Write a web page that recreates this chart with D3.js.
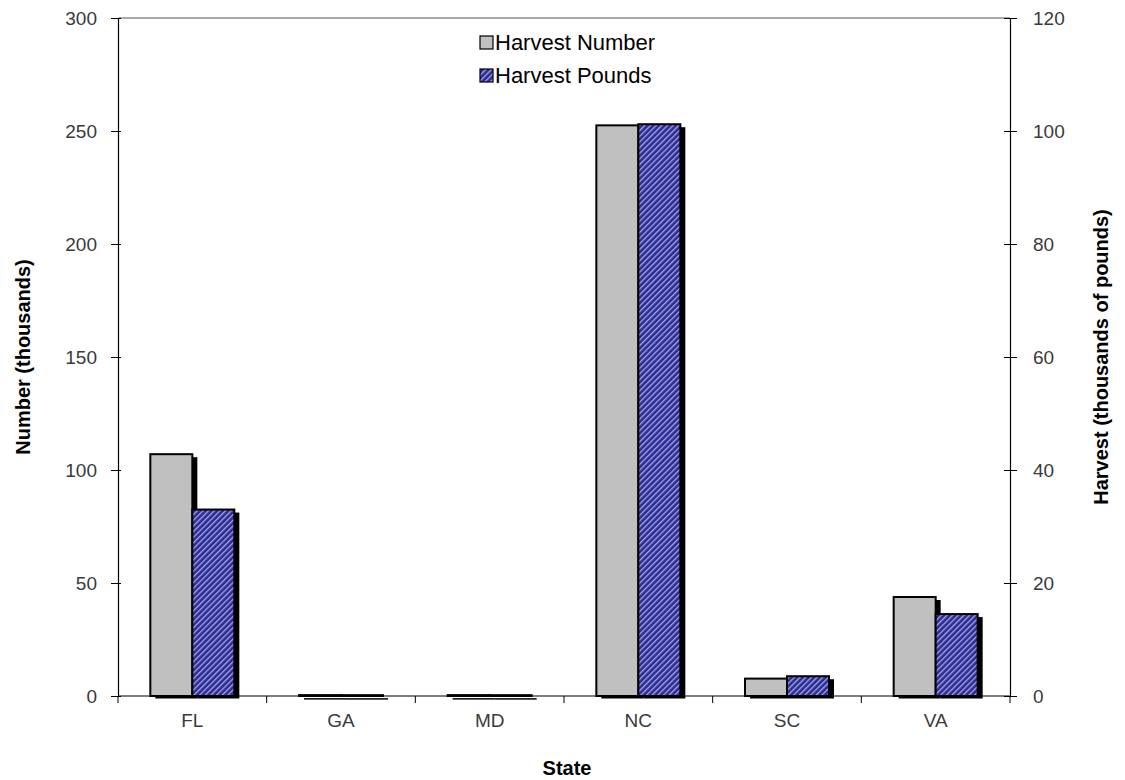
<!DOCTYPE html>
<html><head><meta charset="utf-8">
<script src="https://cdn.jsdelivr.net/npm/d3@7"></script>
<style>body{margin:0;background:#fff}svg{font-family:"Liberation Sans",Arial,sans-serif}</style>
</head><body><svg id="c" width="1125" height="780"></svg>
<script>
const states = ["FL","GA","MD","NC","SC","VA"];
const harvestNumber = [107, 0.4, 0.4, 252.5, 7.7, 43.8];   // thousands (left axis)
const harvestPounds = [33, 0.15, 0.15, 101.2, 3.5, 14.5];  // thousands of pounds (right axis)
const leftTicks = [0,50,100,150,200,250,300];
const rightTicks = [0,20,40,60,80,100,120];

const svg = d3.select("#c");
const L=118, R=1010, T=18, B=696;
const x = d3.scaleBand().domain(states).range([L,R]);
const yL = d3.scaleLinear().domain([0,300]).range([B,T]);
const yR = d3.scaleLinear().domain([0,120]).range([B,T]);

const defs = svg.append("defs");
const pat = defs.append("pattern").attr("id","hatch").attr("patternUnits","userSpaceOnUse")
  .attr("width",4).attr("height",4).attr("patternTransform","rotate(45)");
pat.append("rect").attr("width",4).attr("height",4).attr("fill","#2b2b96");
pat.append("rect").attr("width",1.3).attr("height",4).attr("fill","#a8a8e0");

// top border
svg.append("line").attr("x1",L).attr("x2",R).attr("y1",T).attr("y2",T).attr("stroke","#555").attr("stroke-width",1.2);

const bw = 42, off = 5;
const g = svg.append("g");
states.forEach((s,i)=>{
  const c = x(s)+x.bandwidth()/2;
  const items = [
    {x0:c-bw, y:yL(harvestNumber[i]), fill:"#c0c0c0"},
    {x0:c, y:yR(harvestPounds[i]), fill:"url(#hatch)"}
  ];
  items.forEach(d=>{
    const h = B-d.y;
    g.append("rect").attr("x",d.x0+off).attr("y",d.y+3).attr("width",bw).attr("height",Math.max(h-0.5,1.5)).attr("fill","#000");
  });
  items.forEach(d=>{
    const h = B-d.y;
    g.append("rect").attr("x",d.x0).attr("y",d.y).attr("width",bw).attr("height",Math.max(h,0.8))
      .attr("fill",d.fill).attr("stroke","#000").attr("stroke-width",2);
  });
});

// axes
const axL = svg.append("g").attr("transform",`translate(${L},0)`)
  .call(d3.axisLeft(yL).tickValues(leftTicks).tickSize(7).tickPadding(14));
axL.selectAll(".tick line").attr("x2",-7).attr("x1",3);
const axR = svg.append("g").attr("transform",`translate(${R},0)`)
  .call(d3.axisRight(yR).tickValues(rightTicks).tickSize(7).tickPadding(16));
axR.selectAll(".tick line").attr("x1",-6);
const axB = svg.append("g").attr("transform",`translate(0,${B})`)
  .call(d3.axisBottom(x).tickSize(0).tickPadding(14));
// category boundary ticks
const bounds = d3.range(states.length+1).map(i=>L+i*x.bandwidth());
svg.append("g").selectAll("line").data(bounds).join("line")
  .attr("x1",d=>d).attr("x2",d=>d).attr("y1",B).attr("y2",B+7).attr("stroke","#000");
[axL,axR,axB].forEach(a=>{
  a.select(".domain").attr("stroke","#000").attr("stroke-width",1.2);
  a.selectAll(".tick line").attr("stroke","#000");
  a.selectAll("text").attr("font-size",19).attr("fill","#3a3a3a").attr("font-family","Liberation Sans, Arial, sans-serif");
});
axB.selectAll("text").attr("dy","0.9em");
axB.select(".domain").attr("d",`M${L},0H${R}`);

// axis titles
svg.append("text").attr("transform",`translate(30,${(T+B)/2}) rotate(-90)`).attr("text-anchor","middle")
  .attr("font-size",20).attr("font-weight","bold").text("Number (thousands)");
svg.append("text").attr("transform",`translate(1108,${(T+B)/2}) rotate(-90)`).attr("text-anchor","middle")
  .attr("font-size",20).attr("font-weight","bold").text("Harvest (thousands of pounds)");
svg.append("text").attr("x",(L+R)/2 + 3).attr("y",775).attr("text-anchor","middle")
  .attr("font-size",20).attr("font-weight","bold").text("State");

// legend
const leg = [{t:"Harvest Number",f:"#c0c0c0"},{t:"Harvest Pounds",f:"url(#hatch)"}];
leg.forEach((d,i)=>{
  const y0 = 43 + i*33;
  svg.append("rect").attr("x",480).attr("y",y0-7).attr("width",13).attr("height",13)
    .attr("fill",d.f).attr("stroke","#000").attr("stroke-width",1.2);
  svg.append("text").attr("x",495).attr("y",y0+6.5).attr("font-size",22).attr("fill","#000").text(d.t);
});
</script></body></html>
